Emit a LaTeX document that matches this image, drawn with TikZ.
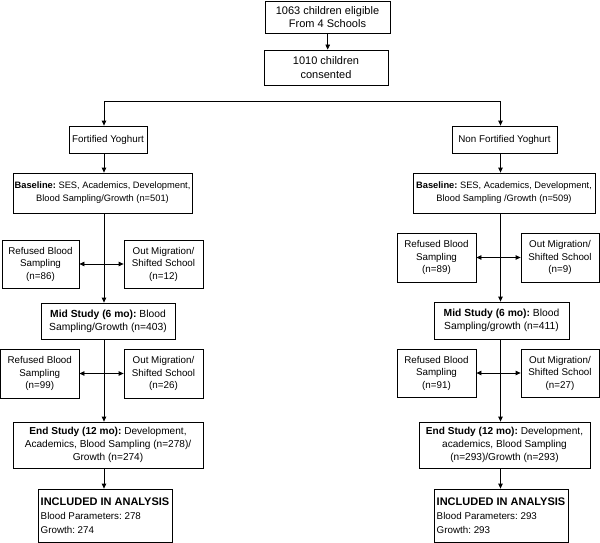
\documentclass[tikz,border=0pt]{standalone}
\usepackage{fontspec}
\setmainfont{Liberation Sans}
\usetikzlibrary{arrows.meta}
\frenchspacing
\newcommand\fs{\fontsize{9.8}{12.5}\selectfont}
\newcommand\fstop{\fontsize{11}{13.5}\selectfont}
\newcommand\fsbase{\fontsize{9.3}{13}\selectfont}
\newcommand\fsmid{\fontsize{10.3}{12.7}\selectfont}
\newcommand\fsend{\fontsize{10.1}{12.8}\selectfont}
\tikzset{
  box/.style={draw, line width=0.8pt, inner sep=0pt, align=center, font=\fs},
  inclbox/.style={box, align=left, minimum width=134, minimum height=53},
  conn/.style={line width=0.8pt},
  arr/.style={line width=0.8pt, -{Triangle[width=4.5pt,length=5pt]}},
  darr/.style={line width=0.8pt, {Triangle[width=4.5pt,length=5pt]}-{Triangle[width=4.5pt,length=5pt]}},
}
\begin{document}
\begin{tikzpicture}[x=1pt,y=-1pt]
\useasboundingbox (0,0) rectangle (600,543);
% top
\node[box, font=\fstop, minimum width=125, minimum height=32] (b1) at (327.5,17) {1063 children eligible\\From 4 Schools};
\node[box, font=\fstop, minimum width=124, minimum height=35] (b2) at (326,67.5) {1010 children\\consented};
\coordinate (hl) at (104,101);
\coordinate (hr) at (500.5,101);
% arms
\node[box, minimum width=78, minimum height=27] (fL) at (108,139.5) {Fortified Yoghurt};
\node[box, minimum width=105, minimum height=27] (fR) at (504.5,139.5) {Non Fortified Yoghurt};
% baseline
\node[box, font=\fsbase, minimum width=179, minimum height=40] (baseL) at (102.5,193) {\textbf{Baseline:} SES, Academics, Development,\\Blood Sampling/Growth (n=501)};
\node[box, font=\fsbase, minimum width=182, minimum height=40] (baseR) at (504,193) {\textbf{Baseline:} SES, Academics, Development,\\Blood Sampling /Growth (n=509)};
% first losses
\node[box, minimum width=77, minimum height=48] (ref1L) at (40.5,264) {Refused Blood\\Sampling\\(n=86)};
\node[box, minimum width=79, minimum height=48] (out1L) at (163.5,264) {Out Migration/\\Shifted School\\(n=12)};
\node[box, minimum width=79, minimum height=49] (ref1R) at (436.5,257.5) {Refused Blood\\Sampling\\(n=89)};
\node[box, minimum width=78, minimum height=49] (out1R) at (560,257.5) {Out Migration/\\Shifted School\\(n=9)};
% mid
\node[box, font=\fsmid, minimum width=134, minimum height=36] (midL) at (108,321) {\textbf{Mid Study (6 mo):} Blood\\Sampling/Growth (n=403)};
\node[box, font=\fsmid, minimum width=135, minimum height=37] (midR) at (501.5,320.5) {\textbf{Mid Study (6 mo):} Blood\\Sampling/growth (n=411)};
% second losses
\node[box, minimum width=78.5, minimum height=49] (ref2L) at (39.75,373.5) {Refused Blood\\Sampling\\(n=99)};
\node[box, minimum width=79, minimum height=49] (out2L) at (163.5,373.5) {Out Migration/\\Shifted School\\(n=26)};
\node[box, minimum width=79, minimum height=48] (ref2R) at (436.5,373) {Refused Blood\\Sampling\\(n=91)};
\node[box, minimum width=78, minimum height=48] (out2R) at (560,373) {Out Migration/\\Shifted School\\(n=27)};
% end
\node[box, font=\fsend, minimum width=190, minimum height=46] (endL) at (108,445) {\textbf{End Study (12 mo):} Development,\\Academics, Blood Sampling (n=278)/\\Growth (n=274)};
\node[box, font=\fsend, minimum width=171, minimum height=46] (endR) at (504.5,445) {\textbf{End Study (12 mo):} Development,\\academics, Blood Sampling\\(n=293)/Growth (n=293)};
% included
\node[inclbox] (inclL) at (105,515.5) {{\fontsize{11}{14.5}\selectfont\textbf{INCLUDED IN ANALYSIS}}\\[1pt]Blood Parameters: 278\\[1.5pt]Growth: 274};
\node[inclbox] (inclR) at (501,515.5) {{\fontsize{11}{14.5}\selectfont\textbf{INCLUDED IN ANALYSIS}}\\[1pt]Blood Parameters: 293\\[1.5pt]Growth: 293};
% connectors
\draw[arr] (b1.south -| 327.7,0) -- (b2.north -| 327.7,0);
\draw[conn] (hl) -- (hr);
\draw[arr] (hl) -- (fL.north -| hl);
\draw[arr] (hr) -- (fR.north -| hr);
\draw[arr] (fL.south -| hl) -- (baseL.north -| hl);
\draw[arr] (fR.south -| hr) -- (baseR.north -| hr);
\draw[arr] (baseL.south -| hl) -- (midL.north -| hl);
\draw[arr] (baseR.south -| hr) -- (midR.north -| hr);
\draw[arr] (midL.south -| hl) -- (endL.north -| hl);
\draw[arr] (midR.south -| hr) -- (endR.north -| hr);
\draw[arr] (endL.south -| hl) -- (inclL.north -| hl);
\draw[arr] (endR.south -| hr) -- (inclR.north -| hr);
\draw[darr] (ref1L.east) -- (out1L.west);
\draw[darr] (ref1R.east) -- (out1R.west);
\draw[darr] (ref2L.east) -- (out2L.west);
\draw[darr] (ref2R.east) -- (out2R.west);
\end{tikzpicture}
\end{document}
